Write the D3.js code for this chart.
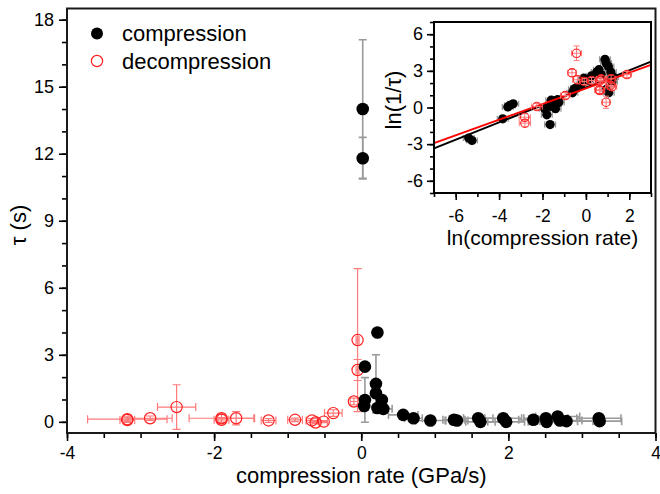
<!DOCTYPE html>
<html><head><meta charset="utf-8">
<script src="https://cdn.jsdelivr.net/npm/d3@7"></script>
<style>
body{margin:0;background:#fff}
svg{display:block}
text{font-family:"Liberation Sans",Arial,Helvetica,sans-serif;fill:#000}
</style>
</head><body>
<svg id="c" width="660" height="494"></svg>
<script>
// ---------- main panel: compression (black, filled) ----------
const compRate   = [0.02, 0.02, 0.22, 0.05, 0.20, 0.20, 0.05, 0.28, 0.04, 0.22, 0.30, 0.57, 0.71, 0.94, 1.26, 1.30, 1.59, 1.62, 1.93, 1.97, 2.34, 2.51, 2.52, 2.67, 2.70, 2.79, 3.23, 3.24];
const compTau    = [14.0, 11.8, 4.0, 2.47, 1.70, 1.28, 0.98, 0.98, 0.71, 0.62, 0.58, 0.31, 0.16, 0.06, 0.09, 0.06, 0.16, 0.00, 0.16, 0.00, 0.09, 0.16, 0.00, 0.24, 0.06, 0.03, 0.16, 0.03];
const compRateErr= [0.02, 0.02, 0.03, 0.03, 0.04, 0.04, 0.05, 0.05, 0.04, 0.05, 0.12, 0.20, 0.12, 0.20, 0.15, 0.15, 0.20, 0.20, 0.25, 0.25, 0.20, 0.30, 0.25, 0.30, 0.30, 0.36, 0.30, 0.30];
const compTauErr = [3.1, 0.93, 0.10, 0.10, 1.30, 0.20, 1.00, 0.20, 0.10, 0.10, 0.08, 0.06, 0.05, 0.04, 0.04, 0.04, 0.04, 0.03, 0.04, 0.03, 0.04, 0.04, 0.03, 0.05, 0.04, 0.03, 0.04, 0.03];

// ---------- main panel: decompression (red, open) ----------
const decRate    = [-3.18, -3.18, -2.87, -2.51, -1.90, -1.90, -1.70, -1.26, -0.90, -0.67, -0.62, -0.51, -0.38, -0.10, -0.05, -0.05];
const decTau     = [0.12, 0.08, 0.16, 0.66, 0.16, 0.09, 0.16, 0.06, 0.09, 0.06, -0.03, 0.01, 0.39, 0.91, 2.32, 3.66];
const decRateErr = [0.54, 0.10, 0.30, 0.26, 0.44, 0.10, 0.25, 0.10, 0.10, 0.08, 0.05, 0.05, 0.12, 0.05, 0.02, 0.02];
const decTauErr  = [0.10, 0.10, 0.10, 1.00, 0.20, 0.10, 0.30, 0.08, 0.08, 0.08, 0.05, 0.05, 0.15, 0.15, 0.47, 3.20];

// ---------- inset: ln(rate) vs ln(1/tau) ----------
const inCompLnRate = [-5.40, -5.25, -3.83, -3.60, -3.50, -3.35, -1.90, -1.80, -1.65, -1.65, -1.60, -1.50, -1.45, -1.40, -1.30, -1.25, -0.62, -0.55, -0.45, -0.20, -0.10, 0.10, 0.26, 0.50, 0.60, 0.70, 0.88, 0.93, 1.04, 0.95, 1.05, 1.20, 1.25, 1.15];
const inCompLnInv  = [-2.50, -2.70, -0.93, 0.05, 0.18, 0.30, -0.10, -0.60, -1.40, 0.10, 0.60, 0.55, 0.30, -0.10, 0.65, 0.40, 1.20, 1.50, 1.60, 1.90, 2.40, 2.20, 2.60, 2.90, 3.10, 2.70, 3.95, 3.65, 3.35, 1.50, 1.20, 2.10, 2.50, 2.90];
const inDecLnRate  = [-2.26, -2.82, -2.81, -0.95, -0.64, -0.43, -0.39, -0.08, 0.26, 0.62, 0.65, 0.70, 0.65, 0.93, 1.12, 1.16, 1.20, 1.89];
const inDecLnInv   = [0.08, -0.80, -1.28, 0.98, 2.84, 4.44, 2.27, 2.13, 2.21, 1.45, 1.39, 2.35, 2.20, 0.43, 1.80, 2.35, 1.70, 2.70];
const inDecXErr    = [0.25, 0.26, 0.26, 0.22, 0.20, 0.23, 0.22, 0.22, 0.22, 0.22, 0.22, 0.22, 0.22, 0.18, 0.22, 0.22, 0.22, 0.20];
const inDecYErr    = [0.25, 0.30, 0.30, 0.25, 0.30, 0.60, 0.30, 0.25, 0.25, 0.30, 0.30, 0.25, 0.25, 0.50, 0.30, 0.30, 0.30, 0.25];
const fitLnRate    = [-7, 3];
const fitComp      = [-3.35, 3.76];
const fitDec       = [-2.92, 3.49];

// ---------- tick labels ----------
const mainXTicks = [-4, -2, 0, 2, 4];
const mainYTicks = [0, 3, 6, 9, 12, 15, 18];
const inXTicks   = [-6, -4, -2, 0, 2];
const inYTicks   = [-6, -3, 0, 3, 6];

const svg = d3.select("#c");
const RED = "#ff2020", REDERR = "#ff7a7a", GREYERR = "#9a9a9a";

// ================= MAIN =================
const x = d3.scaleLinear().domain([-4, 4]).range([67, 655.5]);
const y = d3.scaleLinear().domain([-0.5, 18.5]).range([433, 8.5]);

function styleAxis(g, fs){
  g.select(".domain").remove();
  g.selectAll("line").attr("stroke","#000").attr("stroke-width",1.6);
  g.selectAll("text").style("font-size", fs+"px").attr("fill","#000");
}

// minor ticks
svg.append("g").attr("transform","translate(0,433)")
  .call(d3.axisBottom(x).tickValues(d3.range(-4,4.01,0.5)).tickSize(5).tickFormat(""))
  .call(g=>styleAxis(g,18));
svg.append("g").attr("transform","translate(67,0)")
  .call(d3.axisLeft(y).tickValues(d3.range(0,18.01,1)).tickSize(5).tickFormat(""))
  .call(g=>styleAxis(g,18));
// major ticks
svg.append("g").attr("transform","translate(0,433)")
  .call(d3.axisBottom(x).tickValues(mainXTicks).tickSize(8).tickPadding(6).tickFormat(d=>String(d)))
  .call(g=>styleAxis(g,17.5));
svg.append("g").attr("transform","translate(67,0)")
  .call(d3.axisLeft(y).tickValues(mainYTicks).tickSize(8).tickPadding(5).tickFormat(d=>String(d)))
  .call(g=>styleAxis(g,18));

// frame
svg.append("rect").attr("x",67).attr("y",8.5).attr("width",655.5-67).attr("height",433-8.5)
  .attr("fill","none").attr("stroke","#1a1a1a").attr("stroke-width",2);

// axis titles
svg.append("text").attr("x",(67+655.5)/2).attr("y",483).attr("text-anchor","middle")
  .style("font-size","22px").text("compression rate (GPa/s)");
svg.append("text").attr("transform","translate(26,225) rotate(-90)").attr("text-anchor","middle")
  .style("font-size","22px").text("τ (s)");

function errorBars(g, xs, ys, xe, ye, sx, sy, color, w, cap){
  xs.forEach((v,i)=>{
    const cx=sx(v), cy=sy(ys[i]);
    const x0=sx(v-xe[i]), x1=sx(v+xe[i]);
    const y0=sy(ys[i]-ye[i]), y1=sy(ys[i]+ye[i]);
    const p = `M${x0},${cy}H${x1}M${x0},${cy-cap}V${cy+cap}M${x1},${cy-cap}V${cy+cap}`+
              `M${cx},${y0}V${y1}M${cx-cap},${y0}H${cx+cap}M${cx-cap},${y1}H${cx+cap}`;
    g.append("path").attr("d",p).attr("fill","none").attr("stroke",color).attr("stroke-width",w);
  });
}

const gm = svg.append("g");
errorBars(gm, decRate, decTau, decRateErr, decTauErr, x, y, REDERR, 1.2, 4);
errorBars(gm, compRate, compTau, compRateErr, compTauErr, x, y, GREYERR, 1.6, 4);
gm.selectAll(".dec").data(decRate).join("circle")
  .attr("cx",d=>x(d)).attr("cy",(d,i)=>y(decTau[i])).attr("r",5.6)
  .attr("fill","none").attr("stroke",RED).attr("stroke-width",1.2);
gm.selectAll(".comp").data(compRate).join("circle")
  .attr("cx",d=>x(d)).attr("cy",(d,i)=>y(compTau[i])).attr("r",6.3).attr("fill","#000");

// legend
svg.append("circle").attr("cx",97).attr("cy",33.5).attr("r",6).attr("fill","#000");
svg.append("circle").attr("cx",97).attr("cy",61).attr("r",5.6).attr("fill","none").attr("stroke",RED).attr("stroke-width",1.2);
svg.append("text").attr("x",122).attr("y",41).style("font-size","22px").text("compression");
svg.append("text").attr("x",122).attr("y",68.5).style("font-size","22px").text("decompression");

// ================= INSET =================
const L=434, R=651, T=22, B=193;
const xi = d3.scaleLinear().domain([-7, 3]).range([L, R]);
const yi = d3.scaleLinear().domain([-7, 7]).range([B, T]);

svg.append("rect").attr("x",L).attr("y",T).attr("width",R-L).attr("height",B-T).attr("fill","#fff");
svg.append("g").attr("transform",`translate(0,${B})`)
  .call(d3.axisBottom(xi).tickValues(d3.range(-7,3.01,1)).tickSize(4).tickFormat(""))
  .call(g=>styleAxis(g,18));
svg.append("g").attr("transform",`translate(${L},0)`)
  .call(d3.axisLeft(yi).tickValues(d3.range(-7,7.01,1)).tickSize(4).tickFormat(""))
  .call(g=>styleAxis(g,18));
svg.append("g").attr("transform",`translate(0,${B})`)
  .call(d3.axisBottom(xi).tickValues(inXTicks).tickSize(7).tickPadding(10).tickFormat(d=>String(d)))
  .call(g=>styleAxis(g,17.5));
svg.append("g").attr("transform",`translate(${L},0)`)
  .call(d3.axisLeft(yi).tickValues(inYTicks).tickSize(7).tickPadding(4).tickFormat(d=>String(d)))
  .call(g=>styleAxis(g,18));

svg.append("text").attr("x",(L+R)/2).attr("y",244.5).attr("text-anchor","middle")
  .style("font-size","21px").text("ln(compression rate)");
svg.append("text").attr("transform","translate(401,100) rotate(-90)").attr("text-anchor","middle")
  .style("font-size","22px").text("ln(1/τ)");

const gi = svg.append("g");
errorBars(gi, inCompLnRate, inCompLnInv, inCompLnRate.map(()=>0.25), inCompLnInv.map(()=>0.12), xi, yi, GREYERR, 1.3, 3);
gi.selectAll(".ic").data(inCompLnRate).join("circle")
  .attr("cx",d=>xi(d)).attr("cy",(d,i)=>yi(inCompLnInv[i])).attr("r",4.6).attr("fill","#000");
const line = d3.line().x(d=>xi(d[0])).y(d=>yi(d[1]));
gi.append("path").attr("d",line(fitLnRate.map((v,i)=>[v,fitComp[i]]))).attr("stroke","#000").attr("stroke-width",2).attr("fill","none");
gi.append("path").attr("d",line(fitLnRate.map((v,i)=>[v,fitDec[i]]))).attr("stroke","#f00").attr("stroke-width",2).attr("fill","none");
errorBars(gi, inDecLnRate, inDecLnInv, inDecXErr, inDecYErr, xi, yi, REDERR, 1, 3);
gi.selectAll(".id").data(inDecLnRate).join("circle")
  .attr("cx",d=>xi(d)).attr("cy",(d,i)=>yi(inDecLnInv[i])).attr("r",4.2)
  .attr("fill","none").attr("stroke",RED).attr("stroke-width",1.1);

svg.append("rect").attr("x",L).attr("y",T).attr("width",R-L).attr("height",B-T)
  .attr("fill","none").attr("stroke","#000").attr("stroke-width",2);
</script>
</body></html>
